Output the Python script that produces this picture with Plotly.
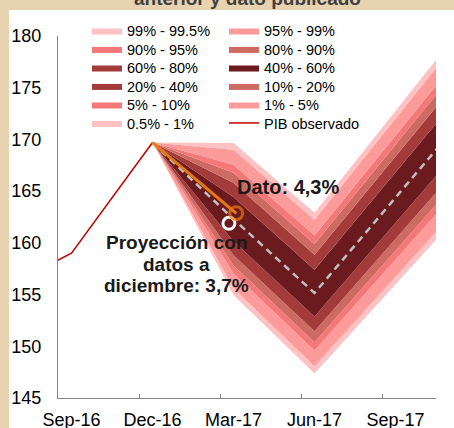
import plotly.graph_objects as go

# ---------------- data ----------------
# x positions in months relative to Sep-16 (quarterly points)
obs_x = [-3, 0, 3]                      # Jun-16, Sep-16, Dec-16
obs_y = [155.0, 159.0, 169.7]           # PIB observado

fan_x = [3, 6, 9, 12, 15]               # Dec-16 ... Dec-17
central = [169.7, 162.3, 155.15, 164.4, 173.6]

# quantile boundaries of the fan (per fan_x date)
q005 = [169.7, 154.95, 147.38, 156.01, 164.60]
q01  = [169.7, 155.60, 148.06, 156.75, 165.39]
q05  = [169.7, 157.04, 149.59, 158.39, 167.16]
q10  = [169.7, 157.81, 150.40, 159.27, 168.10]
q20  = [169.7, 158.80, 151.45, 160.41, 169.32]
q40  = [169.7, 160.16, 152.89, 161.96, 170.98]
q60  = [169.7, 164.44, 157.41, 166.84, 176.22]
q80  = [169.7, 165.80, 158.85, 168.39, 177.88]
q90  = [169.7, 166.79, 159.90, 169.53, 179.10]
q95  = [169.7, 167.56, 160.71, 170.41, 180.04]
q99  = [169.7, 169.00, 162.24, 172.05, 181.81]
q995 = [169.7, 169.65, 162.92, 172.79, 182.60]

dato_x = [3, 6.1]
dato_y = [169.7, 162.86]
proy_x = [5.83]
proy_y = [161.89]

tick_vals = [0, 3, 6, 9, 12]
tick_text = ["Sep-16", "Dec-16", "Mar-17", "Jun-17", "Sep-17"]
minor_ticks = [2.5, 5.5, 8.5, 11.5]

band_labels = ["0.5% - 1%", "1% - 5%", "5% - 10%", "10% - 20%", "20% - 40%",
               "40% - 60%", "60% - 80%", "80% - 90%", "90% - 95%", "95% - 99%",
               "99% - 99.5%"]
# ---------------- style / layout ----------------
C1 = "#FFC2C2"
C2 = "#FD9A9A"
C3 = "#F47878"
C4 = "#CD6A62"
C5 = "#A33B3B"
C6 = "#6B1B1E"
band_colors = [C1, C2, C3, C4, C5, C6, C5, C4, C3, C2, C1]
# legend grid placement (row 0..5, col 0..1)
band_row = [5, 4, 4, 3, 3, 2, 2, 1, 1, 0, 0]
band_col = [0, 1, 0, 1, 0, 1, 0, 1, 0, 1, 0]
row_center_px = [32, 50.5, 69, 87.5, 106, 124.5]
col_left_px = [87, 224]

PLOT_L, PLOT_R, PLOT_T, PLOT_B = 58, 436, 36, 398
FONT = "Liberation Sans, Arial, sans-serif"


def legend_id(r, c):
    k = r * 2 + c + 1
    return "legend" if k == 1 else "legend%d" % k


fig = go.Figure()

bounds = [q005, q01, q05, q10, q20, q40, q60, q80, q90, q95, q99, q995]

fig.add_trace(go.Scatter(x=fan_x, y=bounds[0], mode="lines",
                         line=dict(width=0, color=C1), showlegend=False,
                         hoverinfo="skip"))
for i in range(11):
    fig.add_trace(go.Scatter(x=fan_x, y=bounds[i + 1], mode="lines",
                             line=dict(width=0, color=band_colors[i]),
                             fill="tonexty", fillcolor=band_colors[i],
                             name=band_labels[i],
                             legend=legend_id(band_row[i], band_col[i])))

fig.add_trace(go.Scatter(x=obs_x, y=obs_y, mode="lines",
                         line=dict(color="#C00000", width=1.5),
                         name="PIB observado", legend=legend_id(5, 1)))

fig.add_trace(go.Scatter(x=fan_x, y=central, mode="lines",
                         line=dict(color="#BFBFBF", width=2.5, dash="7px,5px"),
                         showlegend=False))

fig.add_trace(go.Scatter(x=proy_x, y=proy_y, mode="markers",
                         marker=dict(symbol="circle-open", size=12, color="white",
                                     line=dict(width=3, color="white")),
                         showlegend=False))
fig.add_trace(go.Scatter(x=dato_x, y=dato_y, mode="lines+markers",
                         line=dict(color="#E8780F", width=3),
                         marker=dict(symbol="circle-open", size=[0, 13], color="#E8780F",
                                     line=dict(width=3, color="#E8780F")),
                         showlegend=False))

pw = PLOT_R - PLOT_L
ph = PLOT_B - PLOT_T


def px_x(p):
    return (p - PLOT_L) / pw


def px_y(p):
    return (PLOT_B - p) / ph


# white chart area on the tan frame
fig.add_shape(type="rect", xref="paper", yref="paper",
              x0=px_x(9), x1=px_x(460), y0=px_y(440), y1=px_y(10),
              fillcolor="white", line=dict(width=0), layer="below")

anns = [
    dict(text="Dato: 4,3%", x=8.0, y=165.4, size=20),
    dict(text="Proyección con", x=3.89, y=159.99, size=19),
    dict(text="datos a", x=3.89, y=157.86, size=19),
    dict(text="diciembre: 3,7%", x=3.89, y=155.83, size=19),
]
for a in anns:
    fig.add_annotation(x=a["x"], y=a["y"], xref="x", yref="y", text="<b>%s</b>" % a["text"],
                       showarrow=False, font=dict(size=a["size"], color="#1A1A1A", family=FONT))

fig.add_annotation(xref="paper", yref="paper", x=px_x(247), y=px_y(11), xanchor="center",
                   yanchor="bottom", text="<b>anterior y dato publicado</b>", showarrow=False,
                   font=dict(size=19, color="#404040", family=FONT))

legends = {}
for r in range(6):
    for c in range(2):
        legends[legend_id(r, c)] = dict(
            x=px_x(col_left_px[c]), y=px_y(row_center_px[r] - 17.5),
            xanchor="left", yanchor="top", bgcolor="rgba(0,0,0,0)",
            font=dict(size=14.5, family=FONT, color="black"),
            itemclick=False, itemdoubleclick=False)

fig.update_layout(
    width=454, height=428,
    margin=dict(l=PLOT_L, r=454 - PLOT_R, t=PLOT_T, b=428 - PLOT_B, autoexpand=False),
    paper_bgcolor="#E7D3AF",
    plot_bgcolor="white",
    font=dict(family=FONT, size=18, color="black"),
    hovermode=False,
    xaxis=dict(range=[-0.5, 13.5], tickvals=tick_vals, ticktext=tick_text,
               showgrid=False, zeroline=False, showline=True, linecolor="#868686",
               linewidth=1, ticks="", ticklabelstandoff=5,
               tickfont=dict(size=18, family=FONT, color="black"),
               minor=dict(tickvals=minor_ticks, ticks="inside", ticklen=4,
                          tickcolor="#868686", showgrid=False)),
    yaxis=dict(range=[145, 180], dtick=5, showgrid=False, zeroline=False,
               showline=True, linecolor="#868686", linewidth=1, ticks="",
               ticklabelstandoff=12,
               tickfont=dict(size=18, family=FONT, color="black")),
    **legends,
)

fig.write_html("out.html", config={"displayModeBar": False},
               post_script="document.body.style.margin='0';document.body.style.background='#E7D3AF';")
